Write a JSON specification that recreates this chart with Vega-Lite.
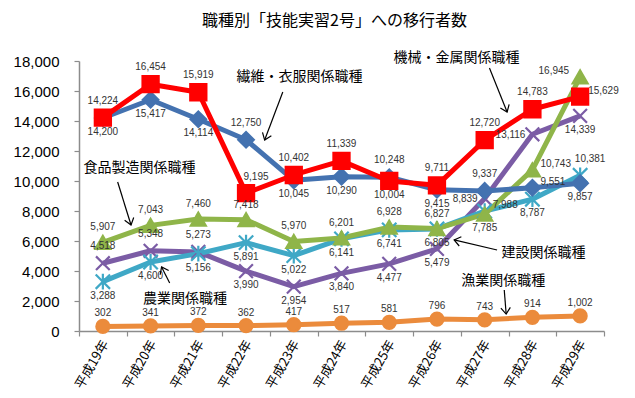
{
  "$schema": "https://vega.github.io/schema/vega-lite/v6.json",
  "width": 525,
  "height": 270,
  "autosize": "none",
  "padding": {"left": 79, "top": 61, "right": 31, "bottom": 67},
  "background": "white",
  "title": {"text": "職種別「技能実習2号」への移行者数", "font": "Noto Sans CJK JP", "fontSize": 16, "fontWeight": "normal", "color": "#000", "anchor": "middle", "dx": -7, "offset": 22, "frame": "group"},
  "config": {"view": {"stroke": null}, "axis": {"labelOverlap": false, "grid": false, "title": null}},
  "datasets": {
    "main": [
      {"h": 19, "s": "漁業", "v": 302, "pos": "t"},
      {"h": 20, "s": "漁業", "v": 341, "pos": "t"},
      {"h": 21, "s": "漁業", "v": 372, "pos": "t"},
      {"h": 22, "s": "漁業", "v": 362, "pos": "t"},
      {"h": 23, "s": "漁業", "v": 417, "pos": "t"},
      {"h": 24, "s": "漁業", "v": 517, "pos": "t"},
      {"h": 25, "s": "漁業", "v": 581, "pos": "t"},
      {"h": 26, "s": "漁業", "v": 796, "pos": "t"},
      {"h": 27, "s": "漁業", "v": 743, "pos": "t"},
      {"h": 28, "s": "漁業", "v": 914, "pos": "t"},
      {"h": 29, "s": "漁業", "v": 1002, "pos": "t"},
      {"h": 19, "s": "建設", "v": 4518, "pos": "t"},
      {"h": 20, "s": "建設", "v": 5348, "pos": "t"},
      {"h": 21, "s": "建設", "v": 5273, "pos": "t"},
      {"h": 22, "s": "建設", "v": 3990, "pos": "b"},
      {"h": 23, "s": "建設", "v": 2954, "pos": "b"},
      {"h": 24, "s": "建設", "v": 3840, "pos": "b"},
      {"h": 25, "s": "建設", "v": 4477, "pos": "b"},
      {"h": 26, "s": "建設", "v": 5479, "pos": "b"},
      {"h": 27, "s": "建設", "v": 8839, "pos": "l"},
      {"h": 28, "s": "建設", "v": 13116, "pos": "l"},
      {"h": 29, "s": "建設", "v": 14339, "pos": "b"},
      {"h": 19, "s": "農業", "v": 3288, "pos": "b"},
      {"h": 20, "s": "農業", "v": 4600, "pos": "b"},
      {"h": 21, "s": "農業", "v": 5156, "pos": "b"},
      {"h": 22, "s": "農業", "v": 5891, "pos": "b"},
      {"h": 23, "s": "農業", "v": 5022, "pos": "b"},
      {"h": 24, "s": "農業", "v": 6141, "pos": "b"},
      {"h": 25, "s": "農業", "v": 6741, "pos": "b"},
      {"h": 26, "s": "農業", "v": 6805, "pos": "b"},
      {"h": 27, "s": "農業", "v": 7988, "pos": "r"},
      {"h": 28, "s": "農業", "v": 8787, "pos": "b"},
      {"h": 29, "s": "農業", "v": 10381, "pos": "tr"},
      {"h": 19, "s": "食品製造", "v": 5907, "pos": "t"},
      {"h": 20, "s": "食品製造", "v": 7043, "pos": "t"},
      {"h": 21, "s": "食品製造", "v": 7460, "pos": "t"},
      {"h": 22, "s": "食品製造", "v": 7418, "pos": "t"},
      {"h": 23, "s": "食品製造", "v": 5970, "pos": "t"},
      {"h": 24, "s": "食品製造", "v": 6201, "pos": "t"},
      {"h": 25, "s": "食品製造", "v": 6928, "pos": "t"},
      {"h": 26, "s": "食品製造", "v": 6827, "pos": "t"},
      {"h": 27, "s": "食品製造", "v": 7785, "pos": "b"},
      {"h": 28, "s": "食品製造", "v": 10743, "pos": "r"},
      {"h": 29, "s": "食品製造", "v": 16945, "pos": "tl"},
      {"h": 19, "s": "繊維・衣服", "v": 14200, "pos": "b"},
      {"h": 20, "s": "繊維・衣服", "v": 15417, "pos": "b"},
      {"h": 21, "s": "繊維・衣服", "v": 14114, "pos": "b"},
      {"h": 22, "s": "繊維・衣服", "v": 12750, "pos": "t"},
      {"h": 23, "s": "繊維・衣服", "v": 10045, "pos": "b"},
      {"h": 24, "s": "繊維・衣服", "v": 10290, "pos": "b"},
      {"h": 25, "s": "繊維・衣服", "v": 10248, "pos": "t"},
      {"h": 26, "s": "繊維・衣服", "v": 9415, "pos": "b"},
      {"h": 27, "s": "繊維・衣服", "v": 9337, "pos": "t"},
      {"h": 28, "s": "繊維・衣服", "v": 9551, "pos": "r"},
      {"h": 29, "s": "繊維・衣服", "v": 9857, "pos": "b"},
      {"h": 19, "s": "機械・金属", "v": 14224, "pos": "t"},
      {"h": 20, "s": "機械・金属", "v": 16454, "pos": "t"},
      {"h": 21, "s": "機械・金属", "v": 15919, "pos": "t"},
      {"h": 22, "s": "機械・金属", "v": 9195, "pos": "tr"},
      {"h": 23, "s": "機械・金属", "v": 10402, "pos": "t"},
      {"h": 24, "s": "機械・金属", "v": 11339, "pos": "t"},
      {"h": 25, "s": "機械・金属", "v": 10004, "pos": "b"},
      {"h": 26, "s": "機械・金属", "v": 9711, "pos": "t"},
      {"h": 27, "s": "機械・金属", "v": 12720, "pos": "t"},
      {"h": 28, "s": "機械・金属", "v": 14783, "pos": "t"},
      {"h": 29, "s": "機械・金属", "v": 15629, "pos": "r"}
    ],
    "ann": [
      {"h": 19.77, "v": 10870, "t": "食品製造関係職種"},
      {"h": 23.12, "v": 16930, "t": "繊維・衣服関係職種"},
      {"h": 26.41, "v": 18200, "t": "機械・金属関係職種"},
      {"h": 28.23, "v": 5200, "t": "建設関係職種"},
      {"h": 27.39, "v": 3330, "t": "漁業関係職種"},
      {"h": 20.72, "v": 2150, "t": "農業関係職種"}
    ],
    "arrows": [
      {"h0": 19.31, "v0": 9930, "h": 19.59, "v": 7070, "ang": 73},
      {"h0": 22.77, "v0": 15930, "h": 22.39, "v": 12730, "ang": 111},
      {"h0": 27.10, "v0": 17530, "h": 27.47, "v": 14600, "ang": 68},
      {"h0": 27.26, "v0": 5400, "h": 26.36, "v": 6070, "ang": 193},
      {"h0": 27.41, "v0": 2730, "h": 27.45, "v": 1130, "ang": 85},
      {"h0": 20.40, "v0": 3200, "h": 20.23, "v": 4270, "ang": 243}
    ]
  },
  "encoding": {
    "x": {"field": "h", "type": "quantitative",
      "scale": {"domain": [18.5, 29.5], "nice": false, "zero": false},
      "axis": {"values": [18.5, 19.5, 20.5, 21.5, 22.5, 23.5, 24.5, 25.5, 26.5, 27.5, 28.5, 29.5],
        "labelExpr": "datum.value < 29 ? '平成' + (datum.value + 0.5) + '年' : ''",
        "title": null, "grid": false, "domainColor": "#8c8c8c", "domainWidth": 1.5, "tickColor": "#8c8c8c", "tickWidth": 1.2, "tickSize": 5,
        "labelAngle": -60, "labelAlign": "right", "labelBaseline": "middle", "labelOffset": 26, "labelPadding": 5,
        "labelFont": "Noto Sans CJK JP", "labelFontSize": 13, "labelColor": "#000", "labelOverlap": false, "labelFlush": false, "labelBound": false}},
    "y": {"field": "v", "type": "quantitative",
      "scale": {"domain": [0, 18000], "nice": false},
      "axis": {"values": [0, 2000, 4000, 6000, 8000, 10000, 12000, 14000, 16000, 18000],
        "labelExpr": "format(datum.value, ',')", "labelOverlap": false, "labelFlush": false,
        "title": null, "grid": false, "domainColor": "#8c8c8c", "domainWidth": 1.5, "tickColor": "#8c8c8c", "tickWidth": 1.2, "tickSize": 5,
        "labelPadding": 15, "labelFont": "Liberation Sans", "labelFontSize": 15, "labelColor": "#000"}}
  },
  "layer": [
    {
      "data": {"name": "main"},
      "mark": {"type": "line", "strokeWidth": 5, "strokeJoin": "round"},
      "encoding": {
        "color": {"field": "s", "type": "nominal", "sort": null, "legend": null,
          "scale": {"domain": ["漁業", "建設", "農業", "食品製造", "繊維・衣服", "機械・金属"],
            "range": ["#EB8B3C", "#7B5CA5", "#3FA8C6", "#8FB549", "#4472B0", "#FF0000"]}}
      }
    },
    {
      "data": {"name": "main"},
      "mark": {"type": "point", "filled": true, "strokeWidth": 2.2, "opacity": 1},
      "encoding": {
        "shape": {"field": "s", "type": "nominal", "legend": null,
          "scale": {"domain": ["漁業", "建設", "農業", "食品製造", "繊維・衣服", "機械・金属"],
            "range": ["circle", "M-1,-1L1,1M-1,1L1,-1", "M-1,-1L1,1M-1,1L1,-1M0,-1.1L0,1.1", "triangle-up", "diamond", "square"]}},
        "size": {"field": "s", "type": "nominal", "legend": null,
          "scale": {"domain": ["漁業", "建設", "農業", "食品製造", "繊維・衣服", "機械・金属"],
            "range": [170, 260, 260, 200, 180, 200]}},
        "color": {"field": "s", "type": "nominal", "legend": null,
          "scale": {"domain": ["漁業", "建設", "農業", "食品製造", "繊維・衣服", "機械・金属"],
            "range": ["#EB8B3C", "#7B5CA5", "#3FA8C6", "#8FB549", "#4472B0", "#FF0000"]}},
        "stroke": {"field": "s", "type": "nominal", "legend": null,
          "scale": {"domain": ["漁業", "建設", "農業", "食品製造", "繊維・衣服", "機械・金属"],
            "range": ["#EB8B3C", "#7B5CA5", "#3FA8C6", "#8FB549", "#4472B0", "#FF0000"]}}
      }
    },
    {
      "data": {"name": "main"},
      "transform": [{"filter": "datum.pos === 't' && datum.s !== '漁業' && datum.s !== '食品製造'"}],
      "mark": {"type": "text", "dy": -17, "font": "Liberation Sans", "fontSize": 10, "color": "#333"},
      "encoding": {"text": {"field": "v", "type": "quantitative", "format": ","}}
    },
    {
      "data": {"name": "main"},
      "transform": [{"filter": "datum.pos === 't' && datum.s === '食品製造'"}],
      "mark": {"type": "text", "dy": -15, "font": "Liberation Sans", "fontSize": 10, "color": "#333"},
      "encoding": {"text": {"field": "v", "type": "quantitative", "format": ","}}
    },
    {
      "data": {"name": "main"},
      "transform": [{"filter": "datum.s === '漁業'"}],
      "mark": {"type": "text", "dy": -13, "font": "Liberation Sans", "fontSize": 10, "color": "#333"},
      "encoding": {"text": {"field": "v", "type": "quantitative", "format": ","}}
    },
    {
      "data": {"name": "main"},
      "transform": [{"filter": "datum.pos === 'b'"}],
      "mark": {"type": "text", "dy": 14, "font": "Liberation Sans", "fontSize": 10, "color": "#333"},
      "encoding": {"text": {"field": "v", "type": "quantitative", "format": ","}}
    },
    {
      "data": {"name": "main"},
      "transform": [{"filter": "datum.pos === 'r'"}],
      "mark": {"type": "text", "dx": 8, "dy": -6, "align": "left", "font": "Liberation Sans", "fontSize": 10, "color": "#333"},
      "encoding": {"text": {"field": "v", "type": "quantitative", "format": ","}}
    },
    {
      "data": {"name": "main"},
      "transform": [{"filter": "datum.pos === 'l'"}],
      "mark": {"type": "text", "dx": -7, "dy": 1, "align": "right", "font": "Liberation Sans", "fontSize": 10, "color": "#333"},
      "encoding": {"text": {"field": "v", "type": "quantitative", "format": ","}}
    },
    {
      "data": {"name": "main"},
      "transform": [{"filter": "datum.pos === 'tr'"}],
      "mark": {"type": "text", "dx": 10, "dy": -16, "font": "Liberation Sans", "fontSize": 10, "color": "#333"},
      "encoding": {"text": {"field": "v", "type": "quantitative", "format": ","}}
    },
    {
      "data": {"name": "main"},
      "transform": [{"filter": "datum.pos === 'tl'"}],
      "mark": {"type": "text", "dx": -11, "dy": -6, "align": "right", "font": "Liberation Sans", "fontSize": 10, "color": "#333"},
      "encoding": {"text": {"field": "v", "type": "quantitative", "format": ","}}
    },
    {
      "data": {"name": "ann"},
      "mark": {"type": "text", "font": "Noto Sans CJK JP", "fontSize": 14, "color": "#000", "clip": false},
      "encoding": {"text": {"field": "t"}}
    },
    {
      "data": {"name": "arrows"},
      "mark": {"type": "rule", "color": "#000", "strokeWidth": 1.2},
      "encoding": {"x2": {"field": "h0"}, "y2": {"field": "v0"}}
    },
    {
      "data": {"name": "arrows"},
      "mark": {"type": "point", "shape": "M-1,-0.75L0,0L-1,0.75", "filled": false, "color": "#000", "strokeWidth": 1.2, "size": 160, "opacity": 1},
      "encoding": {"angle": {"field": "ang", "type": "quantitative", "scale": null}}
    }
  ]
}
